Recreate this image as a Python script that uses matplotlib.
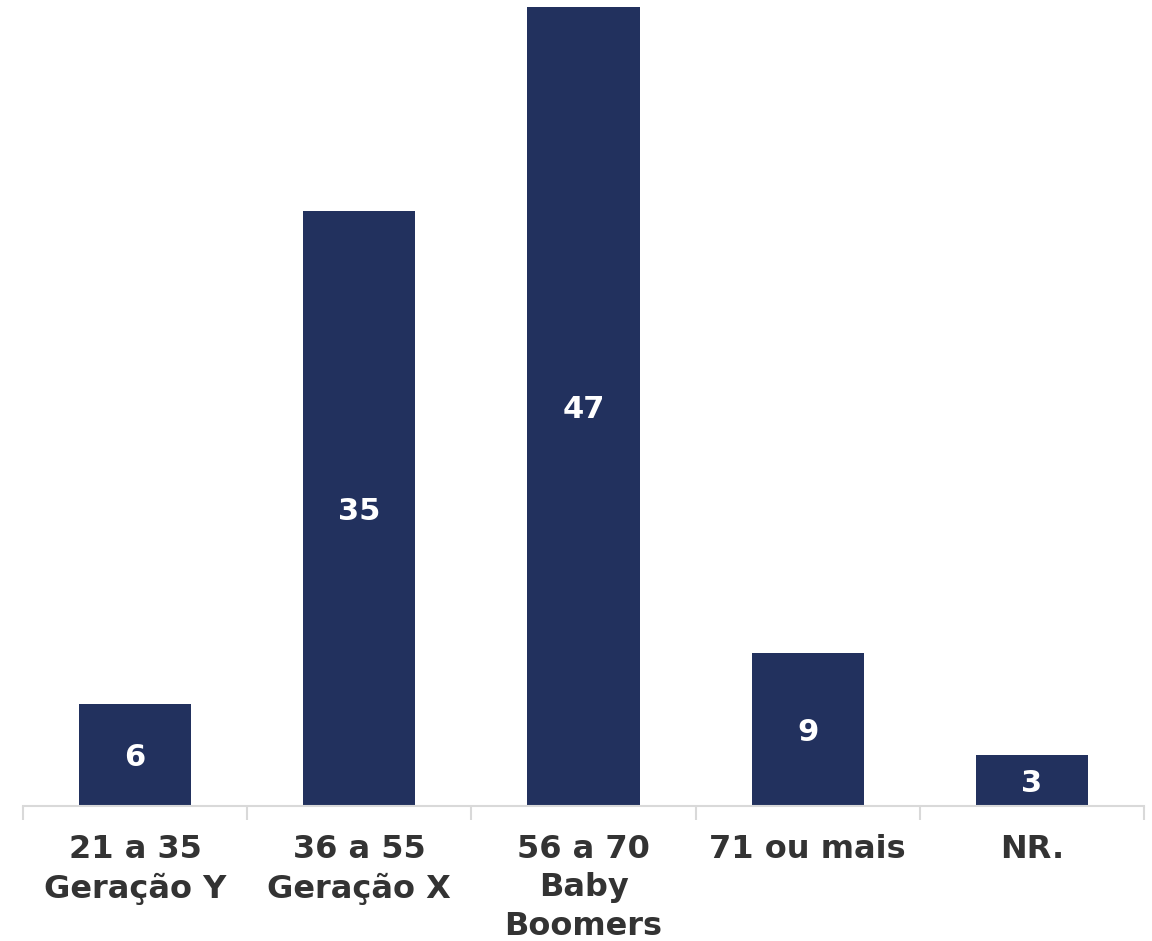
import matplotlib.pyplot as plt
import numpy as np

# age groups and share of respondents (%)
categories = ["21 a 35\nGeração Y", "36 a 55\nGeração X", "56 a 70\nBaby\nBoomers",
              "71 ou mais", "NR."]
values = [6, 35, 47, 9, 3]

bar_color = "#22315E"
text_color = "#333333"

fig = plt.figure(figsize=(11.52, 9.41), dpi=100)
ax = fig.add_axes([23 / 1152, 135 / 941, 1121 / 1152, 806 / 941])

x = np.arange(len(categories))
bars = ax.bar(x, values, width=0.5, color=bar_color, zorder=2)

for rect, v in zip(bars, values):
    ax.text(rect.get_x() + rect.get_width() / 2, v / 2 - 0.15, str(v),
            ha="center", va="center", color="white",
            fontsize=22, fontweight="bold")

ax.set_xlim(-0.5, len(categories) - 0.5)
ax.set_ylim(0, 806 / 17)

# category separators along the base line
for spine in ["top", "right", "left"]:
    ax.spines[spine].set_visible(False)
ax.spines["bottom"].set_color("#d9d9d9")
ax.spines["bottom"].set_linewidth(1.5)
ax.set_yticks([])

ax.set_xticks(np.arange(-0.5, len(categories), 1.0), minor=False)
ax.set_xticklabels([])
ax.tick_params(axis="x", length=10, width=1.5, color="#d9d9d9", direction="out")
ax.set_xticks(x, minor=True)
ax.set_xticklabels(categories, minor=True, fontsize=23, fontweight="bold",
                   color=text_color, va="top", linespacing=1.32)
ax.tick_params(axis="x", which="minor", length=0, pad=20)

fig.savefig("out.png", dpi=100)
